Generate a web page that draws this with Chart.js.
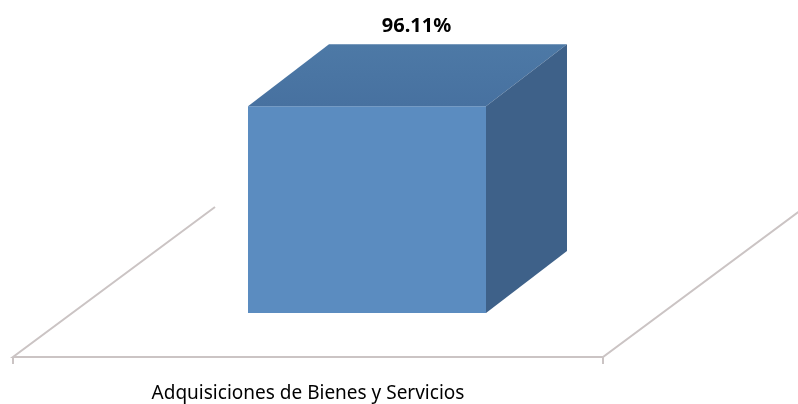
<!DOCTYPE html>
<html>
<head>
<meta charset="utf-8">
<script src="https://cdn.jsdelivr.net/npm/chart.js@4"></script>
<style>
  html, body { margin: 0; padding: 0; background: #ffffff; }
  #wrap { width: 798px; height: 404px; }
</style>
</head>
<body>
<div id="wrap"><canvas id="bar3d" width="798" height="404"></canvas></div>
<script>
const categories = ['Adquisiciones de Bienes y Servicios'];
const values = [96.11]; // porcentaje
const valueLabels = ['96.11%'];

// profundidad 3D (px)
const DEPTH_X = 81, DEPTH_Y = -62;
const FLOOR_OFF_X = 59, FLOOR_OFF_Y = 44;
const FLOOR_DX = 202, FLOOR_DY = -150;

const cube3d = {
    id: 'cube3d',
    beforeDatasetsDraw(chart) {
        const c = chart.ctx, a = chart.chartArea;
        const y0 = a.bottom + FLOOR_OFF_Y;
        const xl = a.left - FLOOR_OFF_X, xr = a.right - FLOOR_OFF_X;
        c.save();
        c.strokeStyle = '#cbc4c4';
        c.lineWidth = 2;
        c.beginPath();
        c.moveTo(xl + FLOOR_DX, y0 + FLOOR_DY);
        c.lineTo(xl, y0);
        c.lineTo(xr, y0);
        c.lineTo(xr + FLOOR_DX * 1.2, y0 + FLOOR_DY * 1.2);
        c.stroke();
        c.beginPath();
        c.moveTo(xl, y0); c.lineTo(xl, y0 + 7);
        c.moveTo(xr, y0); c.lineTo(xr, y0 + 7);
        c.stroke();
        c.restore();
    },
    afterDatasetsDraw(chart) {
        const c = chart.ctx;
        chart.getDatasetMeta(0).data.forEach((bar, i) => {
            const l = bar.x - bar.width / 2, r = bar.x + bar.width / 2;
            const t = bar.y, b = bar.base;
            c.save();
            // cara superior
            const g = c.createLinearGradient(0, t + DEPTH_Y, 0, t);
            g.addColorStop(0, '#4d79a6');
            g.addColorStop(1, '#4771a0');
            c.fillStyle = g;
            c.beginPath();
            c.moveTo(l, t);
            c.lineTo(l + DEPTH_X, t + DEPTH_Y);
            c.lineTo(r + DEPTH_X, t + DEPTH_Y);
            c.lineTo(r, t);
            c.closePath();
            c.fill();
            // cara lateral
            c.fillStyle = '#3e6189';
            c.beginPath();
            c.moveTo(r, t);
            c.lineTo(r + DEPTH_X, t + DEPTH_Y);
            c.lineTo(r + DEPTH_X, b + DEPTH_Y);
            c.lineTo(r, b);
            c.closePath();
            c.fill();
            // etiqueta de valor
            c.fillStyle = '#000000';
            c.font = 'bold 20px "Noto Sans", sans-serif';
            c.textAlign = 'center';
            c.textBaseline = 'middle';
            c.fillText(valueLabels[i], bar.x + DEPTH_X / 2 + 9, t + DEPTH_Y - 18);
            c.restore();
        });
    }
};

new Chart(document.getElementById('bar3d').getContext('2d'), {
    type: 'bar',
    data: {
        labels: categories,
        datasets: [{
            data: values,
            backgroundColor: '#5b8cc0',
            borderWidth: 0,
            barPercentage: 0.4034,
            categoryPercentage: 1
        }]
    },
    options: {
        responsive: false,
        animation: false,
        layout: { padding: { left: 72, right: 136, top: 98, bottom: 0 } },
        plugins: { legend: { display: false }, tooltip: { enabled: false } },
        scales: {
            x: {
                grid: { display: false },
                border: { display: false },
                afterFit: (s) => { s.height = 91; },
                ticks: {
                    color: '#000000',
                    padding: 61,
                    labelOffset: -FLOOR_OFF_X,
                    font: { family: '"Noto Sans", sans-serif', size: 19 }
                }
            },
            y: { display: false, min: 0, max: 100 }
        }
    },
    plugins: [cube3d]
});
</script>
</body>
</html>
